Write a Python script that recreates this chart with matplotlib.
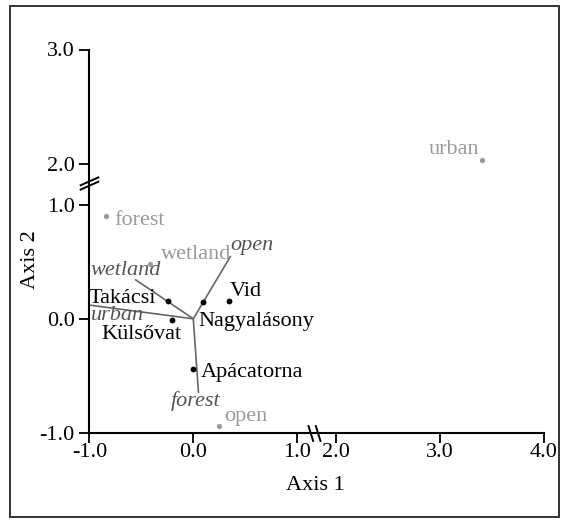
import numpy as np
import matplotlib
matplotlib.use("Agg")
import matplotlib.pyplot as plt
from matplotlib.path import Path
from matplotlib.patches import Rectangle

plt.rcParams['font.family'] = ['Liberation Serif', 'DejaVu Serif']
plt.rcParams['axes.unicode_minus'] = False

# ---- data ----
sites = ['Takácsi', 'Külsővat', 'Nagyalásony', 'Vid', 'Apácatorna']
site_x = [-0.24, -0.205, 0.096, 0.34, 0.0]
site_y = [0.16, -0.01, 0.147, 0.155, -0.44]

habitats = ['forest', 'wetland', 'open', 'urban']
hab_x = [-0.84, -0.42, 0.25, 3.41]
hab_y = [0.90, 0.48, -0.94, 2.03]

vectors = ['wetland', 'urban', 'open', 'forest']
vec_x = [-0.56, -1.0, 0.36, 0.05]
vec_y = [0.345, 0.12, 0.55, -0.65]

x_ticks = [-1, 0, 1, 2, 3, 4]
x_tick_labels = ['-1.0', '0.0', '1.0', '2.0', '3.0', '4.0']
y_ticks = [-1, 0, 1, 2, 3]
y_tick_labels = ['-1.0', '0.0', '1.0', '2.0', '3.0']

FS = 16

# label placement (offset in pixels, horizontal alignment)
site_lab = {'Takácsi': (-12, -2.5, 'right'), 'Külsővat': (10, -18.7, 'right'),
            'Nagyalásony': (-4.4, -24.3, 'left'), 'Vid': (1, 4.7, 'left'),
            'Apácatorna': (7.4, -7.7, 'left')}
hab_lab = {'forest': (8.3, -9.3, 'left'), 'wetland': (11, 5.4, 'left'),
           'open': (4.7, 5, 'left'), 'urban': (-2.6, 6, 'right')}
vec_lab = {'wetland': (-9, 4, 'center'), 'urban': (2, -15.2, 'left'),
           'open': (0, 6, 'left'), 'forest': (-3, -12.7, 'center')}


def make_break(a, shift, eps=0.01):
    gap = shift / (1 - eps)
    b = a + gap

    def fwd(v):
        v = np.asarray(v, float)
        return np.where(v <= a, v, np.where(v >= b, v - shift, a + (v - a) * eps))

    def inv(u):
        u = np.asarray(u, float)
        ub = a + gap * eps
        return np.where(u <= a, u, np.where(u >= ub, u + shift, a + (u - a) / eps))
    return fwd, inv


fig = plt.figure(figsize=(5.67, 5.2), dpi=100)
ax = fig.add_axes([89.3 / 567, 1 - 433 / 520, (543.7 - 89.3) / 567, (433 - 49.5) / 520])
ax.set_xscale('function', functions=make_break(1.17, 0.63))
ax.set_yscale('function', functions=make_break(1.2, 0.642))
ax.set_xlim(-1, 4)
ax.set_ylim(-1, 3)

for s in ['top', 'right']:
    ax.spines[s].set_visible(False)
for s in ['left', 'bottom']:
    ax.spines[s].set_linewidth(1.5)

ax.set_xticks(x_ticks)
ax.set_xticklabels(x_tick_labels)
ax.set_yticks(y_ticks)
ax.set_yticklabels(y_tick_labels)
ax.minorticks_off()
ax.tick_params(axis='both', direction='out', length=7.5, width=1.3, labelsize=FS, colors='black')
ax.tick_params(axis='x', pad=0)
ax.tick_params(axis='y', pad=3)

# vectors
vcol = '#666666'
for name, vx, vy in zip(vectors, vec_x, vec_y):
    ax.plot([0, vx], [0, vy], color=vcol, lw=1.2, solid_capstyle='butt', zorder=2)
    dx, dy, ha = vec_lab[name]
    ax.annotate(name, (vx, vy), xytext=(dx, dy), textcoords='offset pixels',
                ha=ha, va='baseline', fontsize=FS, style='italic', color='#555555')

# habitat points (grey)
gcol = '#9a9a9a'
ax.plot(hab_x, hab_y, 'o', color=gcol, ms=3.8, mec='none', zorder=3, clip_on=False)
for name, hx, hy in zip(habitats, hab_x, hab_y):
    dx, dy, ha = hab_lab[name]
    ax.annotate(name, (hx, hy), xytext=(dx, dy), textcoords='offset pixels',
                ha=ha, va='baseline', fontsize=FS, color=gcol)

# site points (black)
ax.plot(site_x, site_y, 'o', color='black', ms=4.2, mec='none', zorder=4)
for name, sx, sy in zip(sites, site_x, site_y):
    dx, dy, ha = site_lab[name]
    ax.annotate(name, (sx, sy), xytext=(dx, dy), textcoords='offset pixels',
                ha=ha, va='baseline', fontsize=FS, color='black')

# break marks
xbreak = Path([(-6, 8), (-1, -8), (1, 8), (6, -8)],
              [Path.MOVETO, Path.LINETO, Path.MOVETO, Path.LINETO])
ybreak = Path([(-9, -6), (9, 2), (-9, -2), (9, 6)],
              [Path.MOVETO, Path.LINETO, Path.MOVETO, Path.LINETO])
ax.plot([1.16], [-1], marker=xbreak, ms=12, mew=1.4, color='black',
        clip_on=False, zorder=5, linestyle='none')
ax.plot([-1], [1.19], marker=ybreak, ms=14, mew=1.4, color='black',
        clip_on=False, zorder=5, linestyle='none')

# axis titles
fig.text(315.7 / 567, 1 - 490 / 520, 'Axis 1', ha='center', va='baseline', fontsize=FS)
fig.text(30.6 / 567, 1 - 260 / 520, 'Axis 2', ha='center', va='center',
         rotation=90, fontsize=FS)

# outer frame
fig.add_artist(Rectangle((9.5 / 567, 1 - 517 / 520), (559 - 9.5) / 567, (517 - 5.5) / 520,
                         transform=fig.transFigure, fill=False, edgecolor='#333333', lw=1.4))

fig.savefig('out.png', dpi=100)
